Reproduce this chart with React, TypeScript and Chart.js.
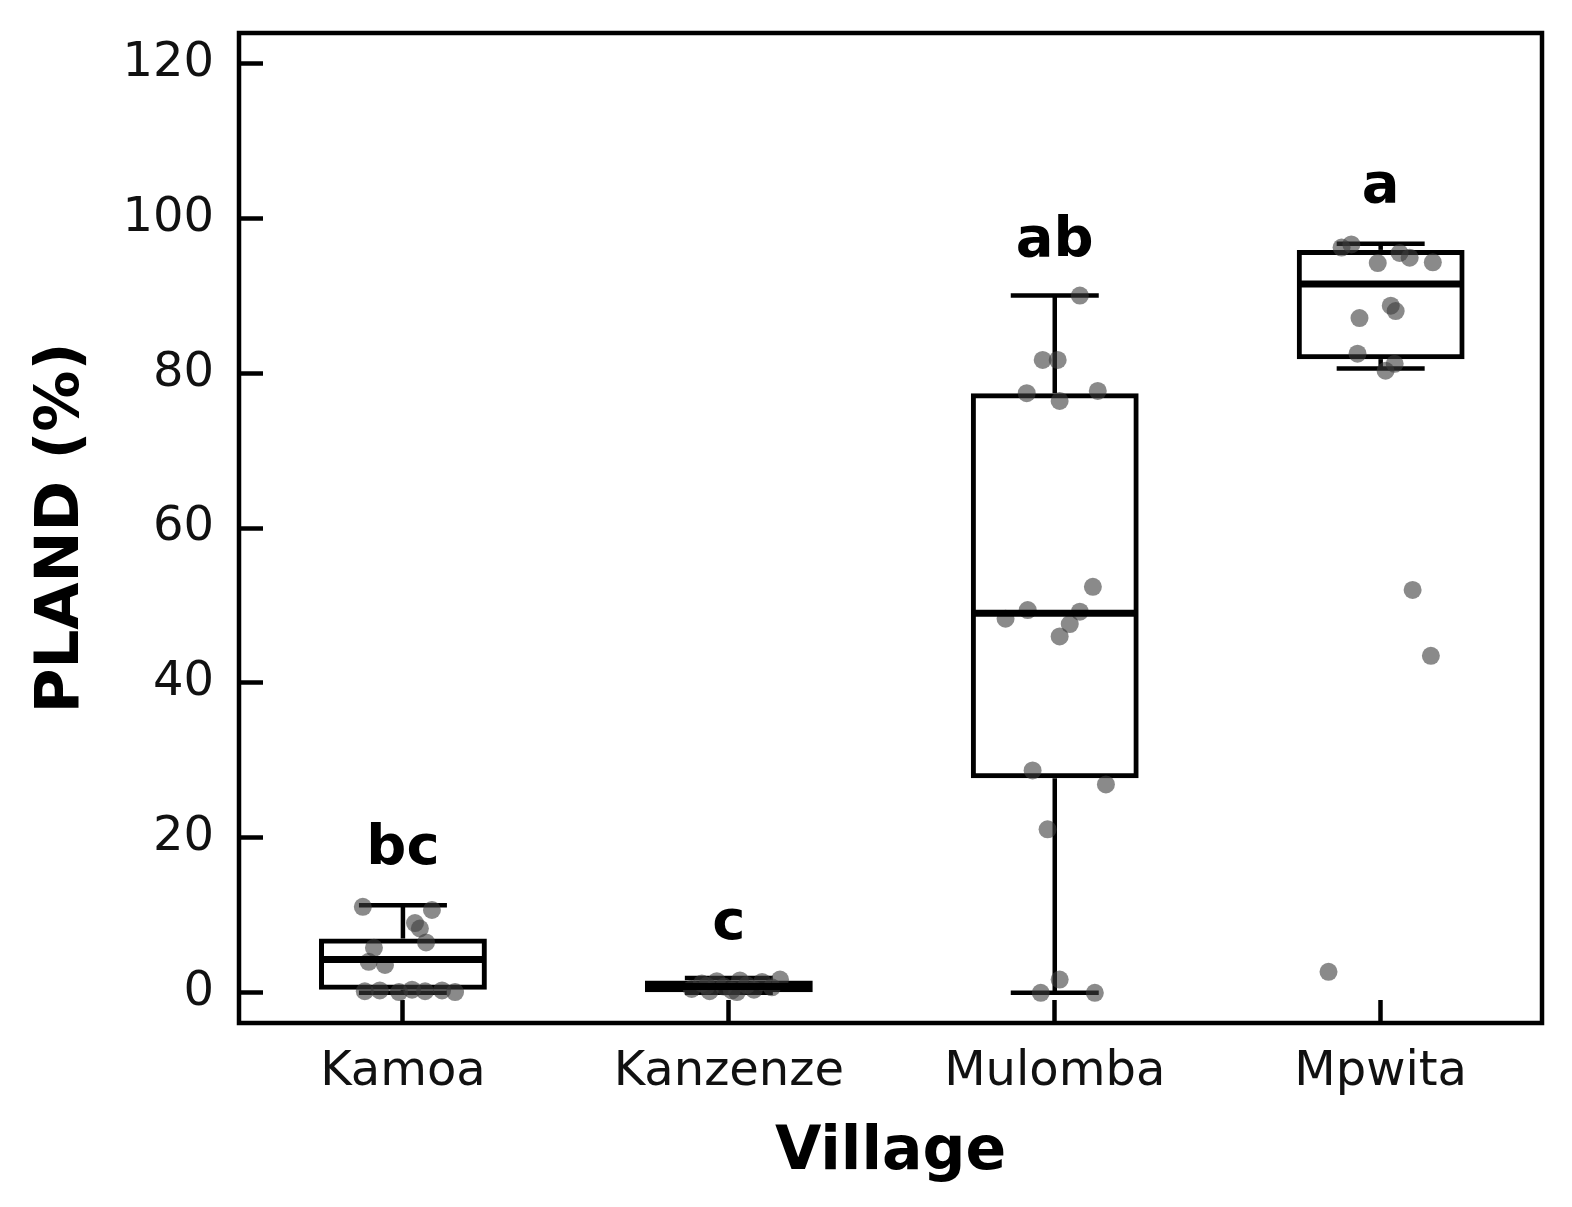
import { useEffect, useRef } from 'react';
import { Chart, registerables } from 'chart.js';

Chart.register(...registerables);

// ---------- data ----------
const villages = ['Kamoa', 'Kanzenze', 'Mulomba', 'Mpwita'];
const q1 = [0.4, 0.0, 27.7, 81.8];
const medians = [4.3, 0.8, 49.0, 91.5];
const q3 = [7.0, 1.6, 77.4, 95.9];
const whiskerLow = [0, 0, 0, 80.6];
const whiskerHigh = [11.3, 1.9, 90.0, 96.7];
const letters = ['bc', 'c', 'ab', 'a'];
const letterY = [16.6, 7.0, 95.1, 102.1];
const yTicks = [0, 20, 40, 60, 80, 100, 120];

// jittered observations (x in category units, y in %)
const kamoaX = [-0.123, 0.089, 0.037, 0.052, 0.071, -0.089, -0.105, -0.055, -0.117, -0.071, -0.012, 0.028, 0.068, 0.12, 0.16];
const kamoaY = [11.1, 10.7, 9.0, 8.3, 6.5, 5.8, 4.0, 3.6, 0.2, 0.3, 0.1, 0.4, 0.2, 0.3, 0.1];
const kanzenzeX = [0.886, 0.917, 0.941, 0.963, 0.985, 1.009, 1.034, 1.055, 1.077, 1.102, 1.132, 1.157, 0.932, 1.025];
const kanzenzeY = [0.5, 1.2, 0.2, 1.5, 0.8, 0.3, 1.6, 1.0, 0.4, 1.4, 0.7, 1.7, 0.9, 0.1];
const mulombaX = [2.077, 1.963, 2.009, 1.914, 2.132, 2.015, 2.117, 1.917, 1.849, 2.077, 2.046, 2.015, 1.932, 2.157, 1.978, 2.015, 1.957, 2.123];
const mulombaY = [90.0, 81.7, 81.7, 77.4, 77.7, 76.4, 52.4, 49.4, 48.3, 49.2, 47.6, 46.0, 28.7, 26.9, 21.1, 1.7, 0.0, 0.0];
const mpwitaX = [2.88, 2.91, 3.058, 3.089, 2.991, 3.16, 3.031, 3.046, 2.935, 2.929, 3.043, 3.015, 3.098, 3.154, 2.84];
const mpwitaY = [96.2, 96.6, 95.5, 94.9, 94.2, 94.3, 88.7, 88.0, 87.1, 82.5, 81.2, 80.3, 52.0, 43.5, 2.7];

const pointXs = [kamoaX, kanzenzeX, mulombaX, mpwitaX];
const pointYs = [kamoaY, kanzenzeY, mulombaY, mpwitaY];

const FONT = "'DejaVu Sans', sans-serif";
const BOX_HALF = 0.2575;
const CAP_HALF = 0.135;

const boxPlugin = {
  id: 'boxExtras',
  beforeDatasetsDraw(chart: any) {
    const { ctx, scales } = chart;
    const x = scales.x, y = scales.y;
    ctx.save();
    ctx.strokeStyle = '#000';
    ctx.lineWidth = 4.5;
    ctx.lineCap = 'butt';
    villages.forEach((_, i) => {
      const cx = x.getPixelForValue(i);
      const l = x.getPixelForValue(i - CAP_HALF);
      const r = x.getPixelForValue(i + CAP_HALF);
      const seg = (x1: number, y1: number, x2: number, y2: number) => {
        ctx.beginPath(); ctx.moveTo(x1, y1); ctx.lineTo(x2, y2); ctx.stroke();
      };
      seg(cx, y.getPixelForValue(q3[i]), cx, y.getPixelForValue(whiskerHigh[i]));
      seg(cx, y.getPixelForValue(q1[i]), cx, y.getPixelForValue(whiskerLow[i]));
      seg(l, y.getPixelForValue(whiskerHigh[i]), r, y.getPixelForValue(whiskerHigh[i]));
      seg(l, y.getPixelForValue(whiskerLow[i]), r, y.getPixelForValue(whiskerLow[i]));
    });
    ctx.restore();
  },
  afterDatasetsDraw(chart: any) {
    const { ctx, scales, chartArea } = chart;
    const x = scales.x, y = scales.y;
    ctx.save();
    ctx.strokeStyle = '#000';
    ctx.lineWidth = 7;
    villages.forEach((_, i) => {
      const py = y.getPixelForValue(medians[i]);
      ctx.beginPath();
      ctx.moveTo(x.getPixelForValue(i - BOX_HALF) + 2, py);
      ctx.lineTo(x.getPixelForValue(i + BOX_HALF) - 2, py);
      ctx.stroke();
    });
    ctx.fillStyle = '#000';
    ctx.font = `bold 56px ${FONT}`;
    ctx.textAlign = 'center';
    ctx.textBaseline = 'alphabetic';
    letters.forEach((t, i) => {
      ctx.fillText(t, x.getPixelForValue(i), y.getPixelForValue(letterY[i]));
    });
    ctx.lineWidth = 4.5;
    ctx.strokeRect(chartArea.left, chartArea.top, chartArea.right - chartArea.left, chartArea.bottom - chartArea.top);
    ctx.restore();
  },
};

export default function App() {
  const canvasRef = useRef<HTMLCanvasElement | null>(null);

  useEffect(() => {
    document.body.style.margin = '0';
    const canvas = canvasRef.current;
    if (!canvas) return;

    const boxData = villages.map((_, i) => ({ x: i, y: [q1[i], q3[i]] }));
    const pts: { x: number; y: number }[] = [];
    pointXs.forEach((xs, g) => xs.forEach((xv, k) => pts.push({ x: xv, y: pointYs[g][k] })));

    const chart = new Chart(canvas, {
      data: {
        datasets: [
          {
            type: 'bar',
            data: boxData as any,
            backgroundColor: 'rgba(0,0,0,0)',
            borderColor: '#000',
            borderWidth: 5,
            borderSkipped: false,
            categoryPercentage: 1,
            barPercentage: 0.515,
            order: 2,
          } as any,
          {
            type: 'scatter',
            data: pts,
            backgroundColor: 'rgba(60,60,60,0.6)',
            borderWidth: 0,
            pointRadius: 9,
            order: 1,
          } as any,
        ],
      },
      options: {
        animation: false,
        responsive: true,
        maintainAspectRatio: false,
        layout: { padding: { left: 0, right: 30, top: 33, bottom: 0 } },
        plugins: { legend: { display: false }, tooltip: { enabled: false } },
        scales: {
          x: {
            type: 'linear',
            min: -0.503,
            max: 3.495,
            offset: false,
            afterBuildTicks: (axis: any) => {
              axis.ticks = villages.map((_, i) => ({ value: i }));
            },
            afterFit: (axis: any) => {
              axis.height = 184;
              axis.paddingLeft = 0;
              axis.paddingRight = 0;
            },
            grid: { offset: false, drawOnChartArea: false, drawTicks: true, tickLength: -23, tickWidth: 4.5, tickColor: '#000' },
            border: { display: false },
            ticks: {
              callback: (v: any) => villages[v] ?? '',
              font: { family: FONT, size: 48 },
              color: '#111',
              padding: 44,
              maxRotation: 0,
              autoSkip: false,
            },
            title: {
              display: true,
              text: 'Village',
              font: { family: FONT, size: 60, weight: 'bold' },
              color: '#000',
              padding: { top: 0, bottom: 18 },
            },
          },
          y: {
            type: 'linear',
            min: -3.9,
            max: 123.9,
            afterBuildTicks: (axis: any) => {
              axis.ticks = yTicks.map((v) => ({ value: v }));
            },
            afterFit: (axis: any) => {
              axis.width = 239;
              axis.paddingTop = 0;
              axis.paddingBottom = 0;
            },
            grid: { drawOnChartArea: false, drawTicks: true, tickLength: -24, tickWidth: 4.5, tickColor: '#000' },
            border: { display: false },
            ticks: {
              font: { family: FONT, size: 48 },
              color: '#111',
              padding: 49,
            },
            title: {
              display: true,
              text: 'PLAND (%)',
              font: { family: FONT, size: 61, weight: 'bold' },
              color: '#000',
              padding: { top: 26, bottom: 0 },
            },
          },
        },
      } as any,
      plugins: [boxPlugin],
    });

    return () => chart.destroy();
  }, []);

  return (
    <div style={{ width: 1572, height: 1207, position: 'relative', background: '#fff' }}>
      <canvas ref={canvasRef} />
    </div>
  );
}
